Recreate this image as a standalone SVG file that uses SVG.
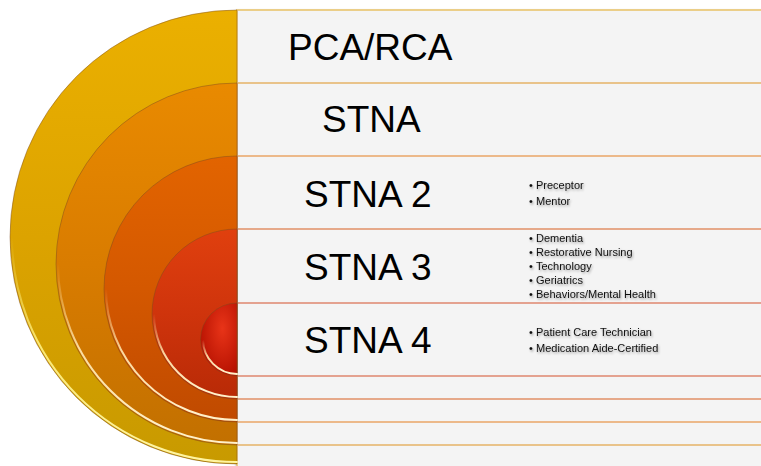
<svg xmlns="http://www.w3.org/2000/svg" width="761" height="466" viewBox="0 0 761 466">
<defs>
<linearGradient id="g1" x1="0" y1="0" x2="0" y2="1"><stop offset="0" stop-color="#EBB000"/><stop offset="0.5" stop-color="#DCA300"/><stop offset="1" stop-color="#C89A00"/></linearGradient>
<linearGradient id="g2" x1="0" y1="0" x2="0" y2="1"><stop offset="0" stop-color="#E98A00"/><stop offset="0.5" stop-color="#D97C00"/><stop offset="1" stop-color="#C27000"/></linearGradient>
<linearGradient id="g3" x1="0" y1="0" x2="0" y2="1"><stop offset="0" stop-color="#E26400"/><stop offset="0.5" stop-color="#D45800"/><stop offset="1" stop-color="#C04A00"/></linearGradient>
<linearGradient id="g4" x1="0" y1="0" x2="0" y2="1"><stop offset="0" stop-color="#E0400E"/><stop offset="0.5" stop-color="#CF340C"/><stop offset="1" stop-color="#B82A06"/></linearGradient>
<radialGradient id="g5" cx="0.6" cy="0.35" r="0.7"><stop offset="0" stop-color="#E83418"/><stop offset="1" stop-color="#B41000"/></radialGradient>
<linearGradient id="hy" x1="0" y1="0" x2="0.4" y2="1"><stop offset="0" stop-color="#FFF080" stop-opacity="0"/><stop offset="0.45" stop-color="#FFF080" stop-opacity="0.9"/><stop offset="1" stop-color="#FFF4A0" stop-opacity="1"/></linearGradient>
<linearGradient id="hw" x1="0" y1="0" x2="0.4" y2="1"><stop offset="0" stop-color="#FFE8B0" stop-opacity="0"/><stop offset="0.45" stop-color="#FFE8B0" stop-opacity="0.9"/><stop offset="1" stop-color="#FFF0C8" stop-opacity="1"/></linearGradient>
<filter id="sh" x="-10%" y="-40%" width="130%" height="200%"><feDropShadow dx="1" dy="1.5" stdDeviation="1" flood-color="#000" flood-opacity="0.35"/></filter>
<filter id="lsh" x="-5%" y="-200%" width="110%" height="500%"><feDropShadow dx="0" dy="1.5" stdDeviation="0.8" flood-color="#000" flood-opacity="0.3"/></filter>
</defs>
<style>
.arc{stroke:#7a4a20;stroke-opacity:0.45;stroke-width:1}
.hl{fill:none;stroke-width:2;stroke-linecap:round}
.row{fill:#F4F4F4;stroke-width:2}
.title{font-family:"Liberation Sans",Arial,sans-serif;font-size:37px;fill:#000}
.b{font-family:"Liberation Sans",Arial,sans-serif;font-size:11px;fill:#111}
</style>
<rect width="761" height="466" fill="#FFFFFF"/>
<g id="panels" filter="url(#lsh)">
<rect class="row" x="237" y="10" width="540" height="470" stroke="#EBCE88"/>
<rect class="row" x="237" y="83" width="540" height="362" stroke="#E9C38A"/>
<rect class="row" x="237" y="156" width="540" height="266" stroke="#ECB98A"/>
<rect class="row" x="237" y="229" width="540" height="170" stroke="#E6A98A"/>
<rect class="row" x="237" y="303" width="540" height="73" stroke="#E4A290"/>
</g>
<g id="arc-1"><path class="arc" d="M237 10 A227 227 0 0 0 237 464 Z" fill="url(#g1)"/><path class="hl" d="M12 237 A225 225 0 0 0 237 462" stroke="url(#hy)"/></g>
<g id="arc-2"><path class="arc" d="M237 83 A181 181 0 0 0 237 445 Z" fill="url(#g2)"/><path class="hl" d="M58 264 A179 179 0 0 0 237 443" stroke="url(#hw)"/></g>
<g id="arc-3"><path class="arc" d="M237 156 A133 133 0 0 0 237 422 Z" fill="url(#g3)"/><path class="hl" d="M106 289 A131 131 0 0 0 237 420" stroke="url(#hw)"/></g>
<g id="arc-4"><path class="arc" d="M237 229 A85 85 0 0 0 237 399 Z" fill="url(#g4)"/><path class="hl" d="M154 314 A83 83 0 0 0 237 397" stroke="url(#hw)"/></g>
<g id="arc-5"><path class="arc" d="M237 303 A36.5 36.5 0 0 0 237 376 Z" fill="url(#g5)"/><path class="hl" d="M203 340 A34.5 34.5 0 0 0 237 374" stroke="url(#hw)"/></g>
<g id="node-pca"><text class="title" x="288" y="60">PCA/RCA</text></g>
<g id="node-stna"><text class="title" x="322" y="132">STNA</text></g>
<g id="node-stna2"><text class="title" x="304" y="207">STNA 2</text>
<g filter="url(#sh)"><text class="b" x="529" y="189">•<tspan x="536">Preceptor</tspan></text><text class="b" x="529" y="205">•<tspan x="536">Mentor</tspan></text></g></g>
<g id="node-stna3"><text class="title" x="304" y="280">STNA 3</text>
<g filter="url(#sh)"><text class="b" x="529" y="242">•<tspan x="536">Dementia</tspan></text><text class="b" x="529" y="256">•<tspan x="536">Restorative Nursing</tspan></text><text class="b" x="529" y="270">•<tspan x="536">Technology</tspan></text><text class="b" x="529" y="284">•<tspan x="536">Geriatrics</tspan></text><text class="b" x="529" y="298">•<tspan x="536">Behaviors/Mental Health</tspan></text></g></g>
<g id="node-stna4"><text class="title" x="304" y="353">STNA 4</text>
<g filter="url(#sh)"><text class="b" x="529" y="336">•<tspan x="536">Patient Care Technician</tspan></text><text class="b" x="529" y="352">•<tspan x="536">Medication Aide-Certified</tspan></text></g></g>
<g id="connectors"/>
</svg>
